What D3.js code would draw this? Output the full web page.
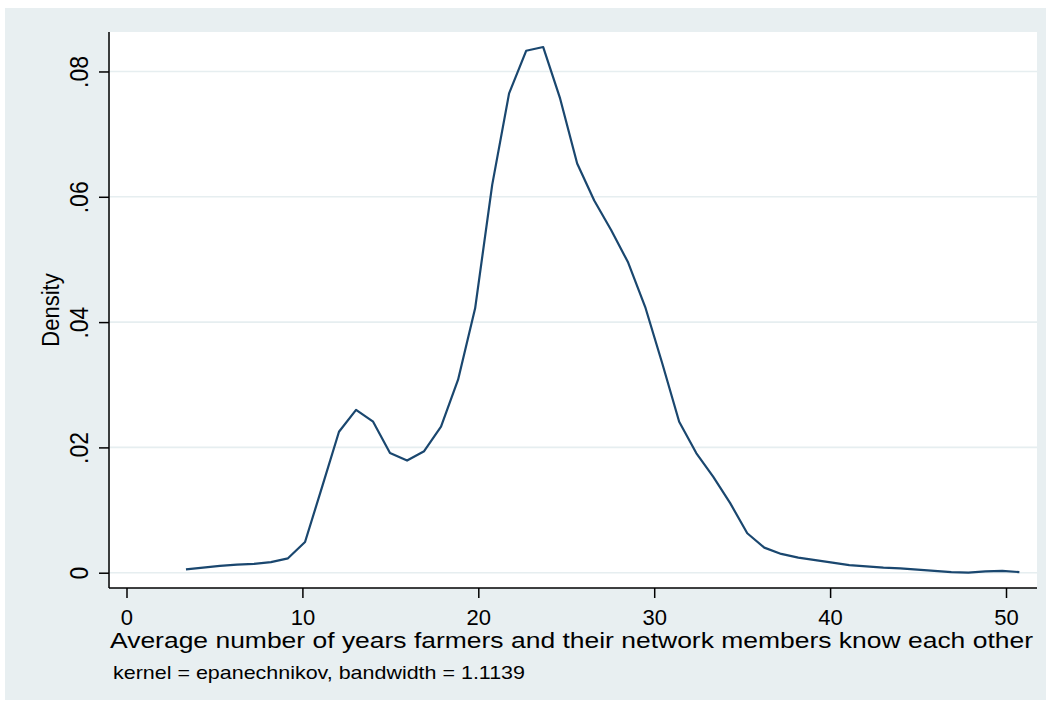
<!DOCTYPE html>
<html>
<head>
<meta charset="utf-8">
<script src="https://cdn.jsdelivr.net/npm/d3@7"></script>
<style>
  html, body { margin: 0; padding: 0; background: #ffffff; }
  svg { display: block; }
  text { font-family: "Liberation Sans", Arial, Helvetica, sans-serif; fill: #000; }
</style>
</head>
<body>
<svg id="chart" width="1051" height="705"></svg>
<script>
// Kernel density estimate evaluation points (years) and densities
const gridX = [3.38, 4.35, 5.31, 6.28, 7.25, 8.21, 9.18, 10.15, 11.12, 12.08,
  13.05, 14.02, 14.98, 15.95, 16.92, 17.88, 18.85, 19.82, 20.79, 21.75,
  22.72, 23.69, 24.65, 25.62, 26.59, 27.55, 28.52, 29.49, 30.46, 31.42,
  32.39, 33.36, 34.32, 35.29, 36.26, 37.22, 38.19, 39.16, 40.13, 41.09,
  42.06, 43.03, 43.99, 44.96, 45.93, 46.89, 47.86, 48.83, 49.79, 50.76];
const density = [0.00054, 0.0008, 0.0011, 0.0013, 0.0014, 0.0017, 0.0023, 0.0049, 0.0137, 0.0225,
  0.0260, 0.0241, 0.0191, 0.0179, 0.0194, 0.0233, 0.0308, 0.0422, 0.0619, 0.0765,
  0.0833, 0.0839, 0.0757, 0.0653, 0.0594, 0.0547, 0.0495, 0.0424, 0.0334, 0.0241,
  0.0191, 0.0153, 0.0111, 0.0063, 0.0040, 0.0030, 0.0024, 0.0020, 0.0016, 0.0012,
  0.0010, 0.0008, 0.0007, 0.0005, 0.0003, 0.0001, 0.0000, 0.0002, 0.0003, 0.0001];

const xTicks = [0, 10, 20, 30, 40, 50];
const yTicks = [0, 0.02, 0.04, 0.06, 0.08];
const yTickLabels = ["0", ".02", ".04", ".06", ".08"];

const xTitle = "Average number of years farmers and their network members know each other";
const yTitle = "Density";
const note = "kernel = epanechnikov, bandwidth = 1.1139";

const svg = d3.select("#chart");

// plot region
const plot = { left: 110, right: 1037, top: 32, bottom: 588 };

const x = d3.scaleLinear().domain([-0.938, 51.762]).range([plot.left, plot.right]);
const y = d3.scaleLinear().domain([-0.00244, 0.0863]).range([plot.bottom, plot.top]);

// outer graph region
svg.append("rect")
  .attr("x", 5).attr("y", 8).attr("width", 1041).attr("height", 692)
  .attr("fill", "#e8eff1");

svg.append("rect")
  .attr("x", plot.left).attr("y", plot.top)
  .attr("width", plot.right - plot.left).attr("height", plot.bottom - plot.top)
  .attr("fill", "#ffffff");

// horizontal grid lines
svg.append("g")
  .selectAll("line")
  .data(yTicks)
  .join("line")
  .attr("x1", plot.left).attr("x2", plot.right)
  .attr("y1", d => y(d)).attr("y2", d => y(d))
  .attr("stroke", "#e6eef0").attr("stroke-width", 1.6);

// y axis
const yAxis = d3.axisLeft(y)
  .tickValues(yTicks)
  .tickSize(10)
  .tickPadding(12)
  .tickFormat((d, i) => yTickLabels[i]);

const gy = svg.append("g")
  .attr("transform", `translate(${plot.left - 1},0)`)
  .call(yAxis);
gy.select(".domain").attr("d", `M0,${plot.top}V${plot.bottom}`)
  .attr("stroke", "#000").attr("stroke-width", 1.5);
gy.selectAll(".tick line").attr("stroke", "#000").attr("stroke-width", 1.5);
gy.selectAll(".tick text")
  .attr("font-size", 23)
  .attr("text-anchor", "middle")
  .attr("x", null).attr("dy", null)
  .attr("transform", "translate(-21,0) scale(1.12,1) rotate(-90)");

// x axis
const xAxis = d3.axisBottom(x)
  .tickValues(xTicks)
  .tickSize(10)
  .tickPadding(10)
  .tickFormat(d3.format("d"));

const gx = svg.append("g")
  .attr("transform", `translate(0,${plot.bottom})`)
  .call(xAxis);
gx.select(".domain").attr("d", `M${plot.left - 1},0H${plot.right}`)
  .attr("stroke", "#000").attr("stroke-width", 1.5);
gx.selectAll(".tick line").attr("stroke", "#000").attr("stroke-width", 1.5);
gx.selectAll(".tick text")
  .attr("font-size", 22)
  .attr("y", 37).attr("dy", null);

// density curve
const line = d3.line()
  .x((d, i) => x(gridX[i]))
  .y(d => y(d));

svg.append("path")
  .datum(density)
  .attr("d", line)
  .attr("fill", "none")
  .attr("stroke", "#1a476f")
  .attr("stroke-width", 2.2)
  .attr("stroke-linejoin", "round");

// axis titles
svg.append("text")
  .attr("transform", `translate(59,${(plot.top + plot.bottom) / 2}) scale(1.1,1) rotate(-90)`)
  .attr("text-anchor", "middle")
  .attr("font-size", 22)
  .text(yTitle);

svg.append("text")
  .attr("x", 110).attr("y", 648)
  .attr("font-size", 22)
  .attr("textLength", 923)
  .attr("lengthAdjust", "spacingAndGlyphs")
  .text(xTitle);

svg.append("text")
  .attr("x", 113).attr("y", 679)
  .attr("font-size", 19)
  .attr("textLength", 412)
  .attr("lengthAdjust", "spacingAndGlyphs")
  .text(note);
</script>
</body>
</html>
